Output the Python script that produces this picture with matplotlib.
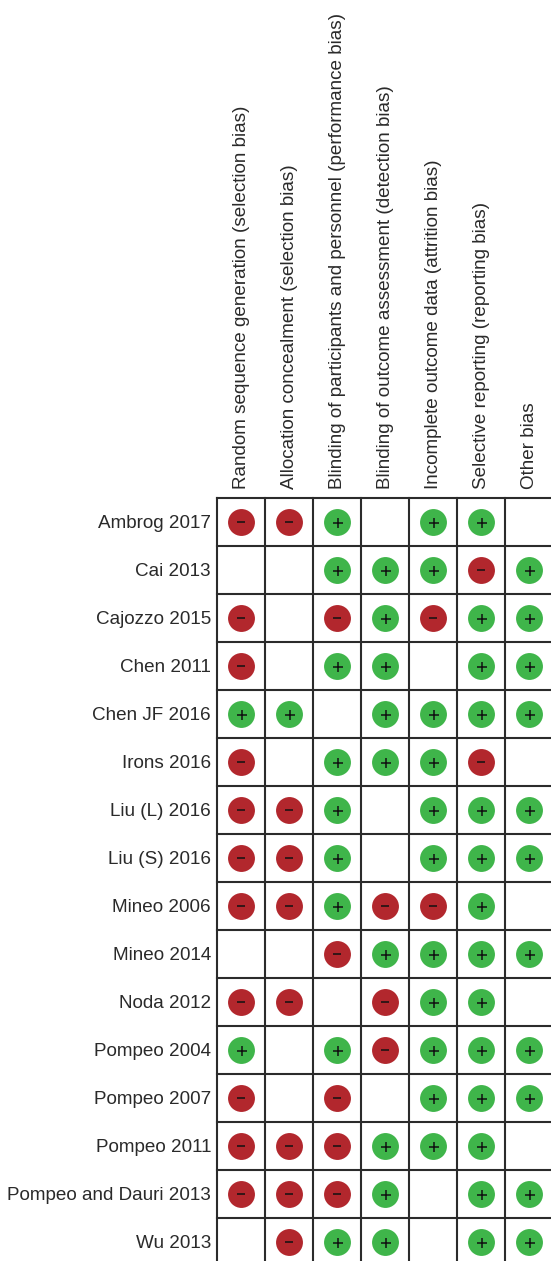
import matplotlib
matplotlib.use("Agg")
import matplotlib.pyplot as plt

plt.rcParams['font.family'] = ['Liberation Sans', 'DejaVu Sans']

domains = ["Random sequence generation (selection bias)",
           "Allocation concealment (selection bias)",
           "Blinding of participants and personnel (performance bias)",
           "Blinding of outcome assessment (detection bias)",
           "Incomplete outcome data (attrition bias)",
           "Selective reporting (reporting bias)",
           "Other bias"]
studies = ["Ambrog 2017", "Cai 2013", "Cajozzo 2015", "Chen 2011", "Chen JF 2016",
           "Irons 2016", "Liu (L) 2016", "Liu (S) 2016", "Mineo 2006", "Mineo 2014",
           "Noda 2012", "Pompeo 2004", "Pompeo 2007", "Pompeo 2011",
           "Pompeo and Dauri 2013", "Wu 2013"]
# one string per study, one sign per domain, space = no rating
ratings = ["--+ ++ ",
           "  +++-+",
           "- -+-++",
           "- ++ ++",
           "++ ++++",
           "- +++- ",
           "--+ +++",
           "--+ +++",
           "--+--+ ",
           "  -++++",
           "-- -++ ",
           "+ +-+++",
           "- - +++",
           "---+++ ",
           "---+ ++",
           " -++ ++"]

W, H = 551, 1261
CELL = 48
left, top = 217, 498
red = "#b2272d"
green = "#3fb54a"
line = "#2b2b2b"
text_col = "#2a2a2a"
FS = 13.55

fig = plt.figure(figsize=(W / 100, H / 100), dpi=100)
ncol, nrow = len(domains), len(studies)
ax = fig.add_axes([left / W, 1 - (top + CELL * nrow) / H, CELL * ncol / W, CELL * nrow / H])
ax.set_xlim(0, ncol)
ax.set_ylim(nrow, 0)
ax.set_xticks([])
ax.set_yticks([])
for s in ax.spines.values():
    s.set_visible(False)

for i in range(ncol + 1):
    ax.axvline(i, color=line, lw=1.5, clip_on=False)
for j in range(nrow + 1):
    ax.axhline(j, color=line, lw=1.5, clip_on=False)

for j, row in enumerate(ratings):
    for i, r in enumerate(row):
        if r == " ":
            continue
        x, y = i + 0.5, j + 0.5
        ax.scatter(x, y, s=375, color=green if r == "+" else red, linewidths=0, zorder=3)
        if r == "+":
            ax.scatter(x + 0.015, y + 0.02, s=62, marker="+", color="#111111", linewidths=1.1, zorder=4)
        else:
            ax.scatter(x - 0.005, y, s=38, marker="_", color="#111111", linewidths=1.1, zorder=4)

for j, name in enumerate(studies):
    ax.text(-0.125, j + 0.535, name, ha="right", va="center", fontsize=FS, color=text_col)

for i, name in enumerate(domains):
    ax.text(i + 0.5, -0.19, name, rotation=90, ha="center", va="bottom", fontsize=FS, color=text_col)

fig.savefig("out.png", dpi=100)
